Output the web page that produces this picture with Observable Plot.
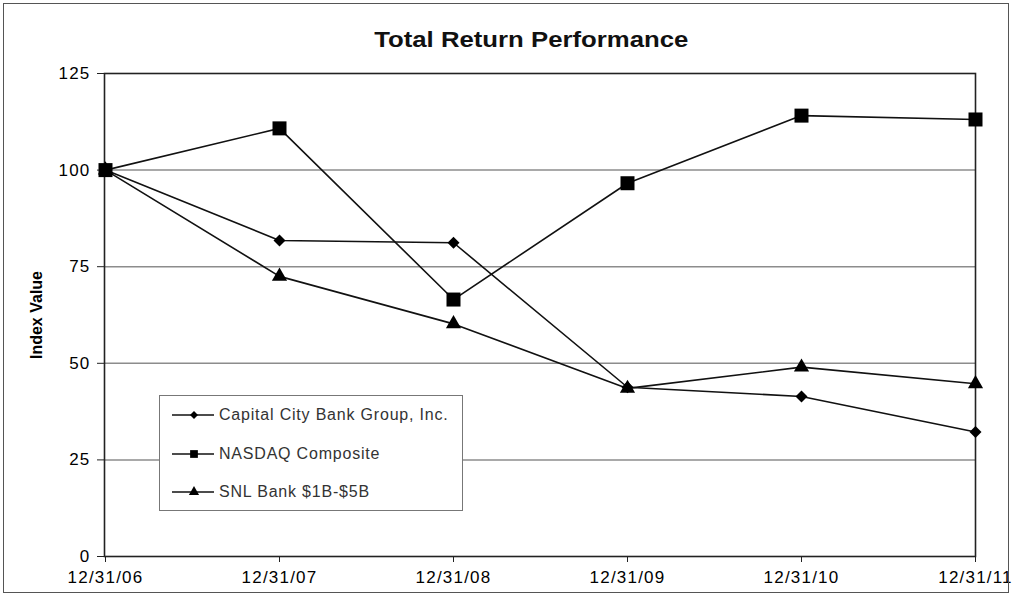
<!DOCTYPE html>
<html>
<head>
<meta charset="utf-8">
<script src="https://cdn.jsdelivr.net/npm/d3@7"></script>
<script src="https://cdn.jsdelivr.net/npm/@observablehq/plot@0.6"></script>
<style>
  html, body { margin: 0; padding: 0; background: #fff; }
  #wrap { position: relative; width: 1013px; height: 596px; overflow: hidden; font-family: "Liberation Sans", Arial, sans-serif; }
  #border { position: absolute; left: 3px; top: 3px; width: 1006px; height: 590px; box-sizing: border-box; border: 1.5px solid #555; pointer-events: none; }
  #title { position: absolute; left: 0; top: 27px; width: 1062px; text-align: center; }
  #title span { display: inline-block; font-size: 22px; font-weight: bold; color: #111; transform: scaleX(1.17); transform-origin: center; }
  #chart { position: absolute; left: 0; top: 0; }
  #chart g[aria-label="x-axis tick label"] text, #chart g[aria-label="y-axis tick label"] text { letter-spacing: 1.2px; }
  #chart g[aria-label="y-axis label"] text { font-weight: bold; font-size: 16px; }
  #legend { position: absolute; left: 159px; top: 395px; width: 304px; height: 116px; box-sizing: border-box; border: 1.5px solid #777; background: #fff; }
  .entry { position: absolute; left: 12px; height: 20px; display: flex; align-items: center; }
  .entry span { font-size: 16px; letter-spacing: 0.8px; color: #333; margin-left: 5px; }
</style>
</head>
<body>
<div id="wrap">
  <div id="chart"></div>
  <div id="title"><span>Total Return Performance</span></div>
  <div id="legend"></div>
  <div id="border"></div>
</div>
<script>
const dates = ["12/31/06", "12/31/07", "12/31/08", "12/31/09", "12/31/10", "12/31/11"];
const seriesNames = ["Capital City Bank Group, Inc.", "NASDAQ Composite", "SNL Bank $1B-$5B"];
const capitalCity = [100, 81.8, 81.2, 43.8, 41.4, 32.2];
const nasdaq = [100, 110.8, 66.5, 96.6, 114.1, 113.1];
const snl = [100, 72.5, 60.2, 43.5, 49.0, 44.7];
const yTicks = [0, 25, 50, 75, 100, 125];
const gridValues = [25, 50, 75, 100];
const symbols = ["diamond2", "square", "triangle"];
const symbolSizes = [92, 196, 100];

const seriesValues = [capitalCity, nasdaq, snl];
const data = [];
seriesNames.forEach((s, i) => {
  dates.forEach((d, j) => data.push({series: s, date: d, value: seriesValues[i][j], sym: symbols[i], r: Math.sqrt(symbolSizes[i] / Math.PI)}));
});

const chart = Plot.plot({
  width: 1013,
  height: 596,
  marginTop: 73,
  marginBottom: 40,
  marginLeft: 104,
  marginRight: 38,
  style: {fontFamily: "'Liberation Sans', Arial, sans-serif", fontSize: "17px", color: "#000", background: "transparent", overflow: "visible"},
  x: {type: "point", domain: dates, padding: 0},
  y: {domain: [0, 125]},
  symbol: {domain: symbols, range: symbols},
  r: {type: "identity"},
  marks: [
    Plot.ruleY(gridValues, {stroke: "#8c8c8c", strokeWidth: 1.5}),
    Plot.axisX({tickSize: 6, tickPadding: 8, label: null, stroke: "#222"}),
    Plot.axisY({ticks: yTicks, tickSize: 7, tickPadding: 7, label: "Index Value", labelAnchor: "center", labelArrow: "none", labelOffset: 74, stroke: "#222"}),
    Plot.frame({stroke: "#222", strokeWidth: 1.6}),
    Plot.line(data, {x: "date", y: "value", z: "series", stroke: "#111", strokeWidth: 1.6}),
    Plot.dot(data, {x: "date", y: "value", symbol: "sym", r: "r", fill: "#000", stroke: "none"})
  ]
});
document.getElementById("chart").appendChild(chart);

// legend
const legend = document.getElementById("legend");
const d3sym = {diamond2: d3.symbolDiamond2, square: d3.symbolSquare, triangle: d3.symbolTriangle};
const legendSizes = [40, 60, 45];
seriesNames.forEach((name, i) => {
  const e = document.createElement("div");
  e.className = "entry";
  e.style.top = (9 + i * 38.5) + "px";
  const svg = d3.create("svg").attr("width", 42).attr("height", 20);
  svg.append("line").attr("x1", 0).attr("x2", 42).attr("y1", 10).attr("y2", 10).attr("stroke", "#111").attr("stroke-width", 1.5);
  svg.append("path").attr("transform", "translate(22,10)").attr("d", d3.symbol(d3sym[symbols[i]], legendSizes[i])()).attr("fill", "#000");
  e.appendChild(svg.node());
  const t = document.createElement("span");
  t.textContent = name;
  e.appendChild(t);
  legend.appendChild(e);
});
</script>
</body>
</html>
